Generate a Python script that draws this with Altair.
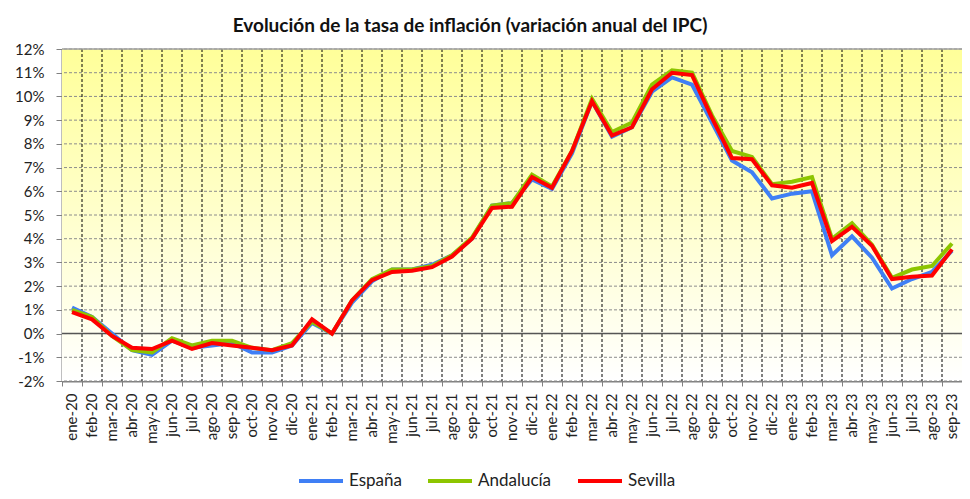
import altair as alt
import pandas as pd

meses = ["ene", "feb", "mar", "abr", "may", "jun", "jul", "ago", "sep", "oct", "nov", "dic"]
months = [f"{m}-{y}" for y in ["20", "21", "22"] for m in meses] + [f"{m}-23" for m in meses[:9]]

espana = [1.1, 0.7, 0.0, -0.7, -0.9, -0.3, -0.6, -0.5, -0.4, -0.8, -0.8, -0.5,
          0.45, 0.0, 1.3, 2.2, 2.7, 2.7, 2.9, 3.3, 4.0, 5.4, 5.5, 6.5,
          6.1, 7.6, 9.8, 8.3, 8.7, 10.2, 10.8, 10.5, 8.9, 7.3, 6.8, 5.7,
          5.9, 6.0, 3.3, 4.1, 3.2, 1.9, 2.3, 2.6, 3.5]
andalucia = [1.0, 0.7, -0.1, -0.7, -0.8, -0.2, -0.5, -0.3, -0.3, -0.6, -0.7, -0.4,
             0.5, 0.0, 1.4, 2.3, 2.7, 2.7, 2.85, 3.3, 4.05, 5.4, 5.5, 6.7,
             6.2, 7.7, 9.9, 8.5, 8.9, 10.5, 11.1, 11.0, 9.2, 7.7, 7.45, 6.3,
             6.4, 6.6, 4.0, 4.65, 3.75, 2.35, 2.7, 2.85, 3.8]
sevilla = [0.9, 0.6, -0.1, -0.6, -0.65, -0.3, -0.65, -0.4, -0.5, -0.6, -0.7, -0.5,
           0.6, 0.0, 1.4, 2.25, 2.6, 2.65, 2.8, 3.25, 4.0, 5.3, 5.35, 6.6,
           6.15, 7.7, 9.8, 8.35, 8.7, 10.3, 11.0, 10.9, 9.1, 7.4, 7.35, 6.25,
           6.15, 6.35, 3.9, 4.5, 3.7, 2.3, 2.4, 2.45, 3.55]

series = ["España", "Andalucía", "Sevilla"]
colors = ["#3F7FF5", "#8DC500", "#FF0000"]
y_ticks = list(range(-2, 13))

rows = []
for name, vals in zip(series, [espana, andalucia, sevilla]):
    for m, v in zip(months, vals):
        rows.append({"mes": m, "serie": name, "valor": v})
df = pd.DataFrame(rows)

W, H = 900, 332
FONT = "Lato"

xscale = alt.Scale(type="band", domain=months, paddingInner=0, paddingOuter=0)
yscale = alt.Scale(domain=[-2, 12], nice=False, zero=False)

xaxis = alt.Axis(
    title=None, bandPosition=0, labelOffset=0, labelAngle=-90, grid=False,
    tickColor="#808080", tickSize=5, domainColor="#808080", domainWidth=2,
    labelFontSize=15, labelFont=FONT, labelColor="#222222", labelPadding=7,
)
yaxis = alt.Axis(
    title=None, values=y_ticks, labelExpr="datum.value + '%'", grid=False,
    tickColor="#808080", tickSize=6, domainColor="#808080", domainWidth=2,
    labelFontSize=15, labelFont=FONT, labelColor="#222222", labelPadding=12,
)

bg = alt.Chart(pd.DataFrame({"a": [0]})).mark_rect(
    color=alt.LinearGradient(
        gradient="linear",
        stops=[alt.GradientStop(color="#FFFF99", offset=0),
               alt.GradientStop(color="#FFFFFF", offset=1)],
        x1=0, x2=0, y1=0, y2=1,
    )
).encode(x=alt.value(0), x2=alt.value(W), y=alt.value(0), y2=alt.value(H))

hgrid = alt.Chart(pd.DataFrame({"valor": y_ticks})).mark_rule(
    color="#8C8C8C", strokeDash=[3, 2], strokeWidth=1
).encode(y=alt.Y("valor:Q", scale=yscale, axis=yaxis))

vgrid = alt.Chart(pd.DataFrame({"mes": months[1:]})).mark_rule(
    color="#000000", strokeDash=[3, 2], strokeWidth=1
).encode(x=alt.X("mes:N", scale=xscale, bandPosition=0, axis=xaxis))

zero = alt.Chart(pd.DataFrame({"valor": [0]})).mark_rule(
    color="#555555", strokeWidth=1.5
).encode(y=alt.Y("valor:Q", scale=yscale, axis=yaxis))

top = alt.Chart(pd.DataFrame({"valor": [12]})).mark_rule(
    color="#A0A0A0", strokeWidth=1.5
).encode(y=alt.Y("valor:Q", scale=yscale, axis=yaxis))

color = alt.Color(
    "serie:N",
    scale=alt.Scale(domain=series, range=colors),
    legend=alt.Legend(
        title=None, orient="none", legendX=235, legendY=408, direction="horizontal",
        symbolType="stroke", symbolStrokeWidth=4, symbolSize=1936,
        labelFontSize=17, labelFont=FONT, labelColor="#222222", labelOffset=4,
        columnPadding=18,
    ),
)

lines = []
for i, name in enumerate(series):
    lines.append(
        alt.Chart(df).transform_filter(alt.datum.serie == name).mark_line(
            strokeWidth=4, strokeJoin="miter"
        ).encode(
            x=alt.X("mes:N", scale=xscale, sort=months, axis=xaxis),
            y=alt.Y("valor:Q", scale=yscale, axis=yaxis),
            color=color,
        )
    )

chart = alt.layer(bg, hgrid, vgrid, zero, top, *lines).properties(
    width=W, height=H,
    title=alt.TitleParams(
        "Evolución de la tasa de inflación (variación anual del IPC)",
        fontSize=19, fontWeight="bold", font=FONT, color="#111111",
        anchor="middle", dx=-42, offset=6,
    ),
    padding={"left": 54, "top": 41, "right": 0, "bottom": 110},
    autosize=alt.AutoSizeParams(type="none"),
).configure_view(stroke=None)

chart.save("out.html", embed_options={"renderer": "svg", "actions": False})
